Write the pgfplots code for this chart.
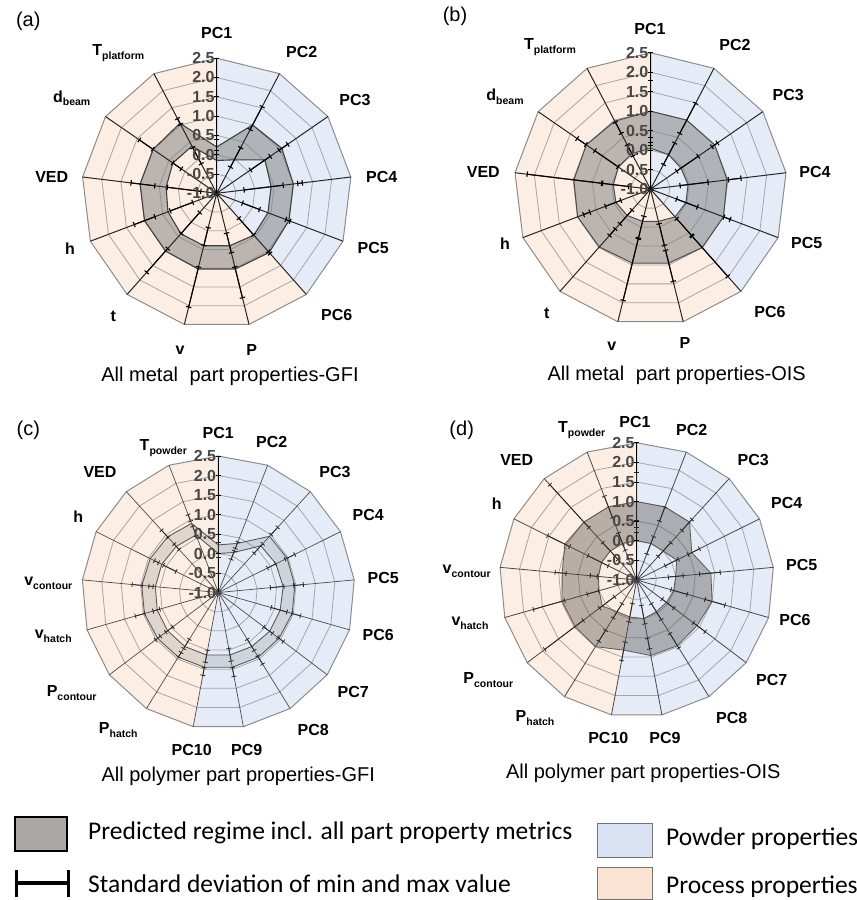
\documentclass[border=0pt]{standalone}
\usepackage{pgfplots}
\pgfplotsset{compat=1.18}
\usepackage{pgfplotstable}
\usepgfplotslibrary{polar}
\usetikzlibrary{arrows.meta}
\usepackage{fontspec}
\setmainfont{Liberation Sans}
\newfontfamily\calibri{Carlito}

\definecolor{powder}{HTML}{E6ECF7}
\definecolor{process}{HTML}{FCEEE3}
\definecolor{powderL}{HTML}{D9E2F2}
\definecolor{processL}{HTML}{FBE3D3}
\definecolor{gridc}{HTML}{A6A6A6}
\definecolor{legendgray}{HTML}{AAA7A7}
\definecolor{bandd}{HTML}{5A5654}

\newcommand\AM{90-\thisrow{k}*27.6923077}
\newcommand\AP{90-\thisrow{k}*21.1764706}
\newcommand\sub[1]{\raisebox{-0.45ex}{\fontsize{10.5}{10.5}\selectfont #1}}

\pgfplotsset{
  radar/.style={x=#1, y=#1, xmin=-4.2, xmax=4.2, ymin=-4.2, ymax=4.2,
    anchor=center, clip=false, hide axis},
  pc/.style={data cs=polar},
  gridl/.style={pc, draw=gridc, line width=0.8pt},
  outerl/.style={pc, draw=black!45, line width=1pt},
  band/.style={pc, unbounded coords=jump},
  ebar/.style={pc, black, line width=1.1pt, {Bar[width=5.5pt]}-{Bar[width=5.5pt]}},
  ebarthin/.style={pc, black!85, line width=0.8pt, {Bar[width=5pt]}-{Bar[width=5pt]}},
}
\tikzset{tl/.style={anchor=east, font=\fontsize{16}{16}\selectfont\bfseries, text=black!72, inner sep=1pt, xshift=-1pt}}
\newcommand\eb[4]{\addplot[ebar] table[x expr={90-\thisrow{k}*360/#1}, y expr={\thisrow{v}+1}, row sep=\\] {k v\\ #2 #3\\ #2 #4\\};}
\newcommand\ebt[4]{\addplot[ebarthin] table[x expr={90-\thisrow{k}*360/#1}, y expr={\thisrow{v}+1}, row sep=\\] {k v\\ #2 #3\\ #2 #4\\};}
\newcommand\raxis{\addplot[pc, black, line width=1.4pt] table[x expr=90, y expr=\thisrow{v}+1, row sep=\\]{k v\\ 0 -1\\ 0 2.5\\};}
\newcommand\rticks{%
  \draw[black, line width=0.8pt] (axis cs:-0.07,0.5) -- (axis cs:0.07,0.5);
  \draw[black, line width=0.8pt] (axis cs:-0.07,1) -- (axis cs:0.07,1);
  \draw[black, line width=0.8pt] (axis cs:-0.07,1.5) -- (axis cs:0.07,1.5);
  \draw[black, line width=0.8pt] (axis cs:-0.07,2) -- (axis cs:0.07,2);
  \draw[black, line width=0.8pt] (axis cs:-0.07,2.5) -- (axis cs:0.07,2.5);
  \draw[black, line width=0.8pt] (axis cs:-0.07,3) -- (axis cs:0.07,3);
  \draw[black, line width=0.8pt] (axis cs:-0.07,3.5) -- (axis cs:0.07,3.5);
  \node[tl] at (axis cs:0,0) {-1.0};
  \node[tl] at (axis cs:0,0.5) {-0.5};
  \node[tl] at (axis cs:0,1) {0.0};
  \node[tl] at (axis cs:0,1.5) {0.5};
  \node[tl] at (axis cs:0,2) {1.0};
  \node[tl] at (axis cs:0,2.5) {1.5};
  \node[tl] at (axis cs:0,3) {2.0};
  \node[tl] at (axis cs:0,3.5) {2.5};
}

\pgfplotstableread{
k v
0 2.5
1 2.5
2 2.5
3 2.5
4 2.5
5 2.5
6 2.5
7 2.5
8 2.5
9 2.5
10 2.5
11 2.5
12 2.5
13 2.5
}\ringM
\pgfplotstableread{
k v
0 2.5
1 2.5
2 2.5
3 2.5
4 2.5
5 2.5
6 2.5
7 2.5
8 2.5
9 2.5
10 2.5
11 2.5
12 2.5
13 2.5
14 2.5
15 2.5
16 2.5
17 2.5
}\ringP
\pgfplotstableread{
k v
0 -1
0 2.5
1 -1
1 2.5
2 -1
2 2.5
3 -1
3 2.5
4 -1
4 2.5
5 -1
5 2.5
6 -1
6 2.5
7 -1
7 2.5
8 -1
8 2.5
9 -1
9 2.5
10 -1
10 2.5
11 -1
11 2.5
12 -1
12 2.5
}\starM
\pgfplotstableread{
k v
0 -1
0 2.5
1 -1
1 2.5
2 -1
2 2.5
3 -1
3 2.5
4 -1
4 2.5
5 -1
5 2.5
6 -1
6 2.5
7 -1
7 2.5
8 -1
8 2.5
9 -1
9 2.5
10 -1
10 2.5
11 -1
11 2.5
12 -1
12 2.5
13 -1
13 2.5
14 -1
14 2.5
15 -1
15 2.5
16 -1
16 2.5
}\starP
\pgfplotstableread{
k v
0 -1
0 2.5
1 2.5
2 2.5
3 2.5
4 2.5
5 2.5
}\bgPowM
\pgfplotstableread{
k v
5 -1
5 2.5
6 2.5
7 2.5
8 2.5
9 2.5
10 2.5
11 2.5
12 2.5
13 2.5
}\bgProM
\pgfplotstableread{
k v
0 -1
0 2.5
1 2.5
2 2.5
3 2.5
4 2.5
5 2.5
6 2.5
7 2.5
8 2.5
9 2.5
}\bgPowP
\pgfplotstableread{
k v
9 -1
9 2.5
10 2.5
11 2.5
12 2.5
13 2.5
14 2.5
15 2.5
16 2.5
17 2.5
}\bgProP

% predicted regime: upper bound on each spoke, then (after the nan row) lower bound
\pgfplotstableread{
k v
0 0.20
1 1.00
2 1.05
3 1.00
4 1.00
5 1.05
6 1.02
7 1.02
8 1.00
9 1.00
10 1.00
11 1.00
12 1.05
13 0.20
nan nan
0 -0.15
1 -0.02
2 0.52
3 0.42
4 0.42
5 0.45
6 0.40
7 0.40
8 0.40
9 0.35
10 0.32
11 0.38
12 0.38
13 -0.15
}\bandA
\pgfplotstableread{
k v
0 1.00
1 1.00
2 1.00
3 0.98
4 1.00
5 1.00
6 0.95
7 0.95
8 0.98
9 1.00
10 0.98
11 1.00
12 0.97
13 1.00
nan nan
0 0.05
1 0.00
2 -0.05
3 -0.03
4 -0.03
5 -0.05
6 -0.15
7 -0.15
8 -0.10
9 -0.05
10 -0.04
11 0.00
12 0.03
13 0.05
}\bandB
\pgfplotstableread{
k v
0 0.22
1 0.35
2 0.95
3 0.97
4 0.97
5 0.97
6 0.95
7 0.95
8 0.95
9 0.95
10 0.95
11 0.95
12 0.97
13 0.97
14 0.95
15 0.93
16 0.90
17 0.22
nan nan
0 0.00
1 0.10
2 0.62
3 0.65
4 0.67
5 0.65
6 0.65
7 0.63
8 0.63
9 0.63
10 0.63
11 0.63
12 0.63
13 0.62
14 0.62
15 0.60
16 0.58
17 0.00
}\bandC
\pgfplotstableread{
k v
0 1.00
1 1.00
2 1.00
3 0.57
4 0.90
5 1.00
6 0.93
7 0.97
8 0.96
9 0.82
10 1.00
11 0.97
12 0.98
13 0.91
14 1.05
15 1.00
16 1.00
17 1.00
nan nan
0 0.00
1 0.00
2 0.00
3 0.14
4 0.00
5 -0.02
6 -0.05
7 -0.05
8 0.00
9 -0.04
10 -0.05
11 0.10
12 0.00
13 -0.02
14 0.00
15 0.00
16 0.00
17 0.00
}\bandD

\tikzset{
  lab/.style={font=\fontsize{16}{16}\selectfont\bfseries, inner sep=0pt},
  ttl/.style={font=\fontsize{20}{20}\selectfont, inner sep=0pt},
  tag/.style={font=\fontsize{20}{20}\selectfont, inner sep=0pt},
  leg/.style={font=\calibri\fontsize{25.5}{25.5}\selectfont, inner sep=0pt, anchor=west},
}

\begin{document}
\begin{tikzpicture}
\useasboundingbox (0,0) rectangle (857pt,900pt);

% ---------------- (a) ----------------
\begin{axis}[radar=38.6pt, at={(216.7pt,706.7pt)}]
\addplot[pc, fill=powder, draw=none] table[x expr=\AM, y expr=\thisrow{v}+1]{\bgPowM};
\addplot[pc, fill=process, draw=none] table[x expr=\AM, y expr=\thisrow{v}+1]{\bgProM};
\pgfplotsinvokeforeach{0.5,1,1.5,2,2.5,3}{\addplot[gridl] table[x expr=\AM, y expr=#1]{\ringM};}
\addplot[outerl] table[x expr=\AM, y expr=\thisrow{v}+1]{\ringM};
\addplot[band, fill=black!50, fill opacity=0.52, draw=none, even odd rule] table[x expr=\AM, y expr=\thisrow{v}+1]{\bandA};
\addplot[band, draw=black!75, line width=1.1pt] table[x expr=\AM, y expr=\thisrow{v}+1]{\bandA};
\addplot[pc, draw=black!85, line width=1pt] table[x expr=\AM, y expr=\thisrow{v}+1]{\starM};
\raxis
\eb{13}{0}{0.10}{0.40}
\eb{13}{1}{-0.25}{0.35}\eb{13}{1}{0.85}{1.55}
\eb{13}{2}{0.05}{0.70}\eb{13}{2}{0.95}{1.25}
\eb{13}{3}{-0.30}{0.75}\eb{13}{3}{1.10}{1.25}
\eb{13}{4}{-0.30}{0.20}\eb{13}{4}{0.90}{1.05}
\eb{13}{5}{-0.15}{0.45}\eb{13}{5}{1.00}{1.10}
\eb{13}{6}{0.05}{0.60}\eb{13}{6}{0.95}{1.80}
\eb{13}{7}{-0.10}{0.40}\eb{13}{7}{0.95}{2.05}
\eb{13}{8}{-0.35}{0.40}\eb{13}{8}{0.90}{1.75}
\eb{13}{9}{-0.35}{0.30}\eb{13}{9}{0.70}{1.30}
\eb{13}{10}{-0.60}{0.30}\eb{13}{10}{0.60}{1.25}
\eb{13}{11}{0.10}{0.40}\eb{13}{11}{1.00}{1.45}
\eb{13}{12}{-0.15}{0.35}\eb{13}{12}{1.00}{1.20}
\rticks
\end{axis}

% ---------------- (b) ----------------
\begin{axis}[radar=39pt, at={(650.5pt,710.8pt)}]
\addplot[pc, fill=powder, draw=none] table[x expr=\AM, y expr=\thisrow{v}+1]{\bgPowM};
\addplot[pc, fill=process, draw=none] table[x expr=\AM, y expr=\thisrow{v}+1]{\bgProM};
\pgfplotsinvokeforeach{0.5,1,1.5,2,2.5,3}{\addplot[gridl] table[x expr=\AM, y expr=#1]{\ringM};}
\addplot[outerl] table[x expr=\AM, y expr=\thisrow{v}+1]{\ringM};
\addplot[band, fill=black!50, fill opacity=0.52, draw=none, even odd rule] table[x expr=\AM, y expr=\thisrow{v}+1]{\bandB};
\addplot[band, draw=black!70, line width=1pt] table[x expr=\AM, y expr=\thisrow{v}+1]{\bandB};
\addplot[pc, draw=black!85, line width=1pt] table[x expr=\AM, y expr=\thisrow{v}+1]{\starM};
\raxis
\eb{13}{0}{0.10}{0.20}\eb{13}{0}{0.30}{1.80}
\eb{13}{1}{-0.30}{0.35}\eb{13}{1}{0.60}{1.50}
\eb{13}{2}{-0.20}{0.50}\eb{13}{2}{0.90}{1.10}
\eb{13}{3}{-0.25}{0.50}\eb{13}{3}{1.00}{1.35}
\eb{13}{4}{-0.30}{0.30}\eb{13}{4}{1.00}{1.20}
\eb{13}{5}{0.00}{0.60}\eb{13}{5}{0.60}{2.00}
\eb{13}{6}{-0.10}{0.50}\eb{13}{6}{0.60}{1.45}
\eb{13}{7}{-0.30}{0.30}\eb{13}{7}{0.30}{1.95}
\eb{13}{8}{-0.30}{0.20}\eb{13}{8}{0.35}{0.60}
\eb{13}{9}{-0.20}{0.25}\eb{13}{9}{0.65}{0.85}
\eb{13}{10}{-0.45}{0.25}\eb{13}{10}{0.25}{2.20}
\eb{13}{11}{0.00}{0.75}\eb{13}{11}{1.00}{1.30}
\eb{13}{12}{-0.05}{0.30}\eb{13}{12}{0.60}{0.95}
\rticks
\end{axis}

% ---------------- (c) ----------------
\begin{axis}[radar=39pt, at={(218.3pt,307.5pt)}]
\addplot[pc, fill=powder, draw=none] table[x expr=\AP, y expr=\thisrow{v}+1]{\bgPowP};
\addplot[pc, fill=process, draw=none] table[x expr=\AP, y expr=\thisrow{v}+1]{\bgProP};
\pgfplotsinvokeforeach{0.5,1,1.5,2,2.5,3}{\addplot[gridl] table[x expr=\AP, y expr=#1]{\ringP};}
\addplot[outerl] table[x expr=\AP, y expr=\thisrow{v}+1]{\ringP};
\addplot[band, fill=black!45, fill opacity=0.25, draw=none, even odd rule] table[x expr=\AP, y expr=\thisrow{v}+1]{\bandC};
\addplot[band, draw=black!65, line width=0.9pt] table[x expr=\AP, y expr=\thisrow{v}+1]{\bandC};
\addplot[pc, draw=black!70, line width=0.7pt] table[x expr=\AP, y expr=\thisrow{v}+1]{\starP};
\raxis
\ebt{17}{0}{-0.10}{0.30}
\ebt{17}{1}{-0.10}{0.15}\ebt{17}{1}{0.20}{0.40}
\ebt{17}{2}{0.35}{0.70}\ebt{17}{2}{1.00}{1.27}
\ebt{17}{3}{0.40}{0.65}\ebt{17}{3}{0.90}{1.20}
\ebt{17}{4}{0.33}{0.70}\ebt{17}{4}{0.93}{1.20}
\ebt{17}{5}{0.40}{0.84}\ebt{17}{5}{0.95}{1.20}
\ebt{17}{6}{0.45}{0.75}\ebt{17}{6}{0.90}{1.10}
\ebt{17}{7}{0.40}{0.76}\ebt{17}{7}{0.90}{1.17}
\ebt{17}{8}{0.45}{0.80}\ebt{17}{8}{0.95}{1.20}
\ebt{17}{9}{0.50}{0.83}\ebt{17}{9}{0.95}{1.17}
\ebt{17}{10}{0.40}{0.70}\ebt{17}{10}{0.80}{0.95}
\ebt{17}{11}{0.45}{0.70}\ebt{17}{11}{0.85}{1.03}
\ebt{17}{12}{0.55}{0.75}\ebt{17}{12}{0.95}{1.22}
\ebt{17}{13}{0.67}{0.80}\ebt{17}{13}{0.95}{1.23}
\ebt{17}{14}{0.20}{0.58}\ebt{17}{14}{0.70}{0.84}
\ebt{17}{15}{0.48}{0.69}\ebt{17}{15}{0.90}{1.17}
\ebt{17}{16}{0.55}{0.83}\ebt{17}{16}{0.95}{1.15}
\rticks
\end{axis}

% ---------------- (d) ----------------
\begin{axis}[radar=39.2pt, at={(636.7pt,320pt)}]
\addplot[pc, fill=powder, draw=none] table[x expr=\AP, y expr=\thisrow{v}+1]{\bgPowP};
\addplot[pc, fill=process, draw=none] table[x expr=\AP, y expr=\thisrow{v}+1]{\bgProP};
\pgfplotsinvokeforeach{0.5,1,1.5,2,2.5,3}{\addplot[gridl] table[x expr=\AP, y expr=#1]{\ringP};}
\addplot[outerl] table[x expr=\AP, y expr=\thisrow{v}+1]{\ringP};
\addplot[band, fill=bandd, fill opacity=0.42, draw=none, even odd rule] table[x expr=\AP, y expr=\thisrow{v}+1]{\bandD};
\addplot[band, draw=black!65, line width=0.8pt] table[x expr=\AP, y expr=\thisrow{v}+1]{\bandD};
\addplot[pc, draw=black!72, line width=0.8pt] table[x expr=\AP, y expr=\thisrow{v}+1]{\starP};
\raxis
\ebt{17}{0}{0.20}{0.35}\ebt{17}{0}{0.50}{1.75}
\ebt{17}{1}{-0.30}{0.20}\ebt{17}{1}{0.60}{1.00}
\ebt{17}{2}{-0.20}{0.30}\ebt{17}{2}{0.70}{1.10}
\ebt{17}{3}{-0.20}{0.20}\ebt{17}{3}{0.45}{0.80}
\ebt{17}{4}{-0.20}{0.20}\ebt{17}{4}{0.60}{1.15}
\ebt{17}{5}{-0.10}{0.35}\ebt{17}{5}{0.80}{1.35}
\ebt{17}{6}{-0.20}{0.20}\ebt{17}{6}{0.80}{1.20}
\ebt{17}{7}{-0.30}{0.20}\ebt{17}{7}{0.60}{1.05}
\ebt{17}{8}{-0.35}{0.15}\ebt{17}{8}{0.50}{0.80}
\ebt{17}{9}{-0.40}{0.10}\ebt{17}{9}{0.60}{1.10}
\ebt{17}{10}{-0.30}{0.15}\ebt{17}{10}{0.50}{0.85}
\ebt{17}{11}{-0.30}{0.20}\ebt{17}{11}{0.70}{1.95}
\ebt{17}{12}{0.00}{0.32}\ebt{17}{12}{0.90}{1.75}
\ebt{17}{13}{0.00}{0.20}\ebt{17}{13}{0.80}{1.10}
\ebt{17}{14}{-0.20}{0.40}\ebt{17}{14}{0.90}{1.55}
\ebt{17}{15}{-0.30}{0.30}\ebt{17}{15}{0.80}{2.30}
\ebt{17}{16}{-0.20}{0.30}\ebt{17}{16}{0.70}{1.30}
\rticks
\end{axis}

% ---------------- labels (a) ----------------
\node[tag] at (28.3pt,878.3pt) {(a)};
\node[lab] at (216.7pt,866.7pt) {PC1};
\node[lab] at (301.7pt,848.3pt) {PC2};
\node[lab] at (355pt,800pt) {PC3};
\node[lab] at (381.7pt,723.3pt) {PC4};
\node[lab] at (373.3pt,651.7pt) {PC5};
\node[lab] at (336.7pt,585pt) {PC6};
\node[lab] at (251.7pt,550pt) {P};
\node[lab] at (180pt,550pt) {v};
\node[lab] at (113.3pt,583.3pt) {t};
\node[lab] at (70pt,651.7pt) {h};
\node[lab] at (51.7pt,723.3pt) {VED};
\node[lab] at (71.7pt,801.7pt) {d\sub{beam}};
\node[lab] at (118.3pt,846.7pt) {T\sub{platform}};
\node[ttl] at (230pt,523.3pt) {All metal\hspace{0.3em} part properties-GFI};

% ---------------- labels (b) ----------------
\node[tag] at (455pt,883.3pt) {(b)};
\node[lab] at (650pt,870.7pt) {PC1};
\node[lab] at (735pt,855pt) {PC2};
\node[lab] at (788.3pt,805pt) {PC3};
\node[lab] at (815pt,728.3pt) {PC4};
\node[lab] at (806.7pt,656.7pt) {PC5};
\node[lab] at (770pt,588.3pt) {PC6};
\node[lab] at (685pt,556.7pt) {P};
\node[lab] at (611.7pt,553.3pt) {v};
\node[lab] at (546.7pt,586.7pt) {t};
\node[lab] at (505pt,656.7pt) {h};
\node[lab] at (483.3pt,728.3pt) {VED};
\node[lab] at (505pt,803.3pt) {d\sub{beam}};
\node[lab] at (550pt,853.3pt) {T\sub{platform}};
\node[ttl] at (676.7pt,525pt) {All metal\hspace{0.3em} part properties-OIS};

% ---------------- labels (c) ----------------
\node[tag] at (28.3pt,470pt) {(c)};
\node[lab] at (163.3pt,451.7pt) {T\sub{powder}};
\node[lab] at (218.3pt,466.7pt) {PC1};
\node[lab] at (271.7pt,458.3pt) {PC2};
\node[lab] at (335pt,428.3pt) {PC3};
\node[lab] at (368.3pt,385pt) {PC4};
\node[lab] at (383.3pt,321.7pt) {PC5};
\node[lab] at (378.3pt,265pt) {PC6};
\node[lab] at (353.3pt,208.3pt) {PC7};
\node[lab] at (313.3pt,170pt) {PC8};
\node[lab] at (246.7pt,150pt) {PC9};
\node[lab] at (191.7pt,150pt) {PC10};
\node[lab] at (118.3pt,170pt) {P\sub{hatch}};
\node[lab] at (71.7pt,206.7pt) {P\sub{contour}};
\node[lab] at (53.3pt,263.3pt) {v\sub{hatch}};
\node[lab] at (48.3pt,316.7pt) {v\sub{contour}};
\node[lab] at (78.3pt,383.3pt) {h};
\node[lab] at (100pt,428.3pt) {VED};
\node[ttl] at (238.3pt,123.3pt) {All polymer part properties-GFI};

% ---------------- labels (d) ----------------
\node[tag] at (461.7pt,470pt) {(d)};
\node[lab] at (581.7pt,470pt) {T\sub{powder}};
\node[lab] at (635pt,478.3pt) {PC1};
\node[lab] at (691.7pt,470pt) {PC2};
\node[lab] at (753.3pt,440pt) {PC3};
\node[lab] at (786.7pt,396.7pt) {PC4};
\node[lab] at (801.7pt,335pt) {PC5};
\node[lab] at (795pt,280pt) {PC6};
\node[lab] at (771.7pt,220pt) {PC7};
\node[lab] at (731.7pt,181.7pt) {PC8};
\node[lab] at (665pt,161.7pt) {PC9};
\node[lab] at (608.3pt,161.7pt) {PC10};
\node[lab] at (535pt,181.7pt) {P\sub{hatch}};
\node[lab] at (488.3pt,220pt) {P\sub{contour}};
\node[lab] at (470pt,276.7pt) {v\sub{hatch}};
\node[lab] at (466.7pt,328.3pt) {v\sub{contour}};
\node[lab] at (496.7pt,396.7pt) {h};
\node[lab] at (516.7pt,440pt) {VED};
\node[ttl] at (643.3pt,126.7pt) {All polymer part properties-OIS};

% ---------------- legend ----------------
\draw[fill=legendgray, draw=black, line width=1.6pt] (15pt,49pt) rectangle (67pt,83pt);
\node[leg] at (88pt,67pt) {Predicted regime incl. all part property metrics};
\draw[line width=3.5pt] (15pt,17pt) -- (70pt,17pt);
\draw[line width=3.5pt] (16.7pt,3pt) -- (16.7pt,30pt);
\draw[line width=3.5pt] (68.3pt,3pt) -- (68.3pt,30pt);
\node[leg] at (88pt,16pt) {Standard deviation of min and max value};
\draw[fill=powderL, draw=black!55, line width=0.8pt] (597pt,43pt) rectangle (652pt,77pt);
\node[leg] at (666pt,61pt) {Powder properties};
\draw[fill=processL, draw=black!55, line width=0.8pt] (597pt,0.5pt) rectangle (652pt,33pt);
\node[leg] at (666pt,13pt) {Process properties};
\end{tikzpicture}
\end{document}
